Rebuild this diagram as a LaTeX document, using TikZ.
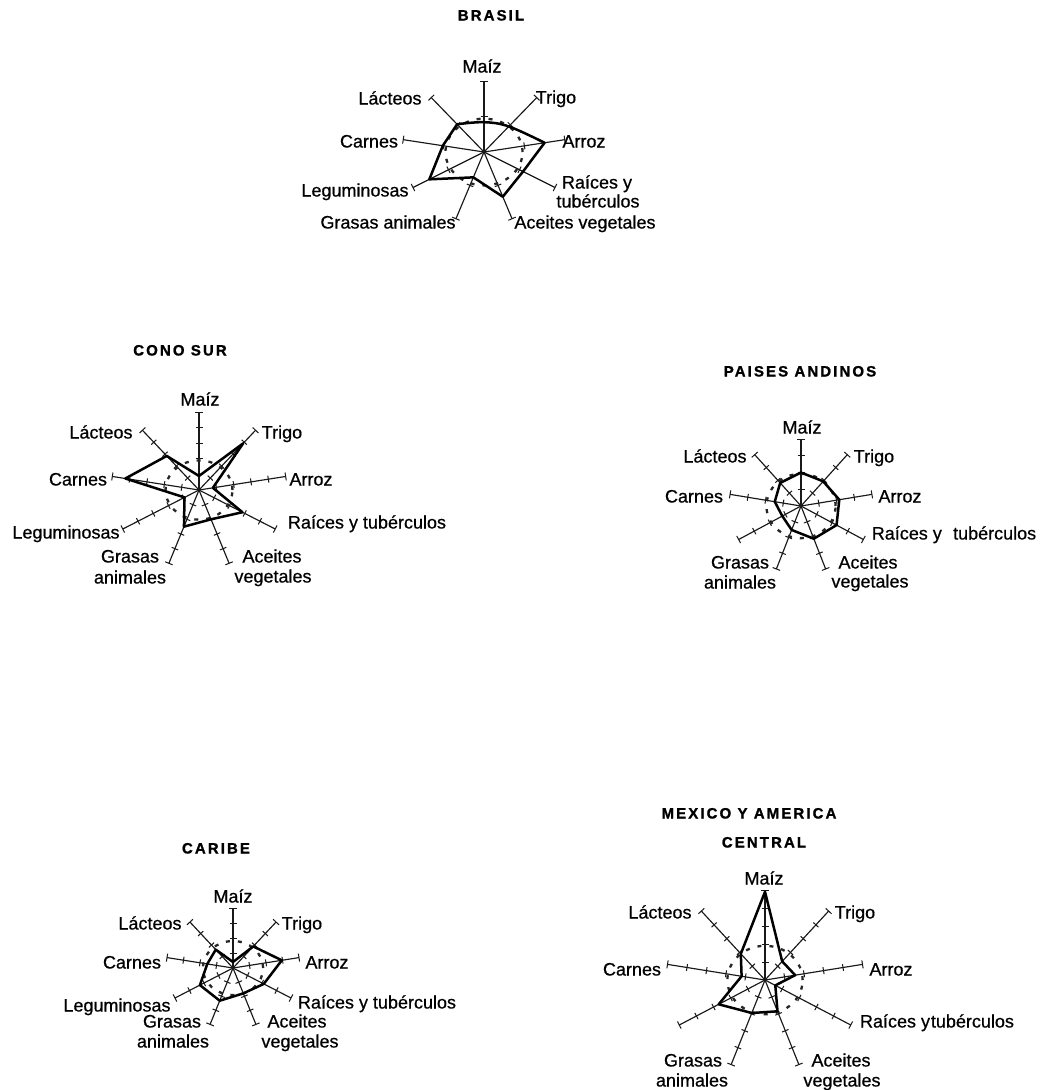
\documentclass[tikz,border=0pt]{standalone}
\usepackage{fontspec}
\setmainfont[FakeBold=0.6]{Liberation Sans}
\newfontfamily\ttlfont[LetterSpace=14,FakeBold=1.2]{Liberation Sans}
\usetikzlibrary{calc}

\tikzset{
  axisline/.style={line width=1.15pt, black!90},
  tickmark/.style={line width=1pt, black!90},
  datapoly/.style={line width=2.5pt, black, line join=round},
  refline/.style={line width=2.3pt, dash pattern=on 4pt off 8pt, black!85},
  lbl/.style={font=\fontsize{18}{20}\selectfont, inner sep=0pt, text height=13pt, text depth=2pt, black},
  ttl/.style={font=\ttlfont\bfseries\fontsize{15}{17}\selectfont, inner sep=0pt, text height=11pt, text depth=0pt, black},
}

% radar frame: #1 prefix, #2 cx, #3 cy, #4 horizontal length, #5 vertical length,
% #6 tick fractions, #7 nine values (clockwise from the top), #8 radius of the dashed ring
\newcommand\radarframe[8]{%
  \coordinate (#1-o) at (#2,#3);
  \foreach \k in {0,...,8}{
    \pgfmathsetmacro\ang{90-40*\k}
    \coordinate (#1-e\k) at ({#2+#4*cos(\ang)},{#3-#5*sin(\ang)});
  }
  \foreach \k in {0,...,8}{
    \draw[axisline] (#1-o) -- (#1-e\k);
    \draw[tickmark] ($(#1-e\k)!4pt!90:(#1-o)$) -- ($(#1-e\k)!4pt!-90:(#1-o)$);
    \foreach \f in {#6}{
      \coordinate (#1-t) at ($(#1-o)!\f!(#1-e\k)$);
      \draw[tickmark] ($(#1-t)!3.5pt!90:(#1-e\k)$) -- ($(#1-t)!3.5pt!-90:(#1-e\k)$);
    }
  }
  \foreach \v [count=\k from 0] in {#7}{
    \coordinate (#1-d\k) at ($(#1-o)!\v!(#1-e\k)$);
  }
  \draw[refline] (#1-o) ellipse [x radius={#4*#8*1pt}, y radius={#5*#8*1pt}];
}

\begin{document}
\begin{tikzpicture}[x=1pt,y=-1pt]
\path[use as bounding box, fill=white] (0,0) rectangle (1042,1090);

% ---------------- BRASIL
\node[ttl] (br-title) at (491,15) {BRASIL};
\radarframe{br}{484}{152}{82}{71}{0.5}{0.42,0.47,0.75,0.55,0.67,0.38,0.77,0.51,0.51}{0.47}
\draw[datapoly] plot[smooth, tension=0.6] coordinates {(br-d8) (br-d0) (br-d1) (br-d2)}
  -- (br-d3) -- (br-d4) -- (br-d5) -- (br-d6) -- (br-d7) -- cycle;
\node[lbl] (br-l0) at (482,67) {Maíz};
\node[lbl] (br-l1) at (556,98) {Trigo};
\node[lbl] (br-l2) at (584,142) {Arroz};
\node[lbl] (br-l3a) at (597,183) {Raíces y};
\node[lbl] (br-l3b) at (598,202) {tubérculos};
\node[lbl] (br-l4) at (585,223) {Aceites vegetales};
\node[lbl] (br-l5) at (388,223) {Grasas animales};
\node[lbl] (br-l6) at (355,191) {Leguminosas};
\node[lbl] (br-l7) at (369,142) {Carnes};
\node[lbl] (br-l8) at (390,99) {Lácteos};

% ---------------- CONO SUR
\node[ttl] (cs-title) at (180,350) {CONO SUR};
\radarframe{cs}{199}{490}{88}{78}{0.2,0.4,0.6,0.8}{0.18,0.78,0.16,0.57,0.40,0.50,0.19,0.85,0.57}{0.38}
\draw[datapoly] (cs-d0) -- (cs-d1) -- (cs-d2) -- (cs-d3) -- (cs-d4) -- (cs-d5)
  -- (cs-d6) -- (cs-d7) -- (cs-d8) -- cycle;
\node[lbl] (cs-l0) at (200,400) {Maíz};
\node[lbl] (cs-l1) at (282,433) {Trigo};
\node[lbl] (cs-l2) at (311,480) {Arroz};
\node[lbl] (cs-l3) at (367,523) {Raíces y tubérculos};
\node[lbl] (cs-l4a) at (272,557) {Aceites};
\node[lbl] (cs-l4b) at (273,577) {vegetales};
\node[lbl] (cs-l5a) at (130,557) {Grasas};
\node[lbl] (cs-l5b) at (130,578) {animales};
\node[lbl] (cs-l6) at (66,533) {Leguminosas};
\node[lbl] (cs-l7) at (78,480) {Carnes};
\node[lbl] (cs-l8) at (101,433) {Lácteos};

% ---------------- PAISES ANDINOS
\node[ttl] (pa-title) at (800,371) {PAISES ANDINOS};
\radarframe{pa}{801}{506}{72}{67}{0.25,0.5,0.75}{0.50,0.48,0.54,0.57,0.52,0.38,0.30,0.37,0.45}{0.48}
\draw[datapoly] (pa-d0) -- (pa-d1) -- (pa-d2) -- (pa-d3) -- (pa-d4) -- (pa-d5)
  -- (pa-d6) -- (pa-d7) -- (pa-d8) -- cycle;
\node[lbl] (pa-l0) at (802,428) {Maíz};
\node[lbl] (pa-l1) at (874,457) {Trigo};
\node[lbl] (pa-l2) at (900,497) {Arroz};
\node[lbl] (pa-l3) at (954,534) {Raíces y\hspace{0.35em} tubérculos};
\node[lbl] (pa-l4a) at (868,563) {Aceites};
\node[lbl] (pa-l4b) at (870,582) {vegetales};
\node[lbl] (pa-l5a) at (740,563) {Grasas};
\node[lbl] (pa-l5b) at (740,583) {animales};
\node[lbl] (pa-l7) at (694,497) {Carnes};
\node[lbl] (pa-l8) at (715,457) {Lácteos};

% ---------------- CARIBE
\node[ttl] (ca-title) at (216,848) {CARIBE};
\radarframe{ca}{233}{968}{67}{60}{0.25,0.5,0.75}{0.10,0.47,0.74,0.53,0.45,0.58,0.57,0.39,0.40}{0.45}
\draw[datapoly] (ca-d0) -- (ca-d1) -- (ca-d2) -- (ca-d3) -- (ca-d4) -- (ca-d5)
  -- (ca-d6) -- (ca-d7) -- (ca-d8) -- cycle;
\node[lbl] (ca-l0) at (233,897) {Maíz};
\node[lbl] (ca-l1) at (302,924) {Trigo};
\node[lbl] (ca-l2) at (327,963) {Arroz};
\node[lbl] (ca-l3) at (377,1003) {Raíces y tubérculos};
\node[lbl] (ca-l4a) at (297,1022) {Aceites};
\node[lbl] (ca-l4b) at (300,1042) {vegetales};
\node[lbl] (ca-l5a) at (172,1022) {Grasas};
\node[lbl] (ca-l5b) at (173,1042) {animales};
\node[lbl] (ca-l6) at (117,1006) {Leguminosas};
\node[lbl] (ca-l7) at (132,963) {Carnes};
\node[lbl] (ca-l8) at (150,924) {Lácteos};

% ---------------- MEXICO Y AMERICA CENTRAL
\node[ttl] (mx-title1) at (749,813) {MEXICO Y AMERICA};
\node[ttl] (mx-title2) at (764,842) {CENTRAL};
\radarframe{mx}{765}{980}{99}{90}{0.2,0.4,0.6,0.8}{0.98,0.27,0.31,0.12,0.37,0.39,0.54,0.24,0.38}{0.38}
\draw[datapoly] (mx-d0) -- (mx-d1) -- (mx-d2) -- (mx-d3) -- (mx-d4) -- (mx-d5)
  -- (mx-d6) -- (mx-d7) -- (mx-d8) -- cycle;
\node[lbl] (mx-l0) at (764,879) {Maíz};
\node[lbl] (mx-l1) at (855,913) {Trigo};
\node[lbl] (mx-l2) at (891,970) {Arroz};
\node[lbl] (mx-l3) at (937,1022) {Raíces y\hspace{0.05em}tubérculos};
\node[lbl] (mx-l4a) at (841,1061) {Aceites};
\node[lbl] (mx-l4b) at (842,1081) {vegetales};
\node[lbl] (mx-l5a) at (693,1061) {Grasas};
\node[lbl] (mx-l5b) at (692,1081) {animales};
\node[lbl] (mx-l7) at (632,970) {Carnes};
\node[lbl] (mx-l8) at (660,913) {Lácteos};
\end{tikzpicture}
\end{document}
